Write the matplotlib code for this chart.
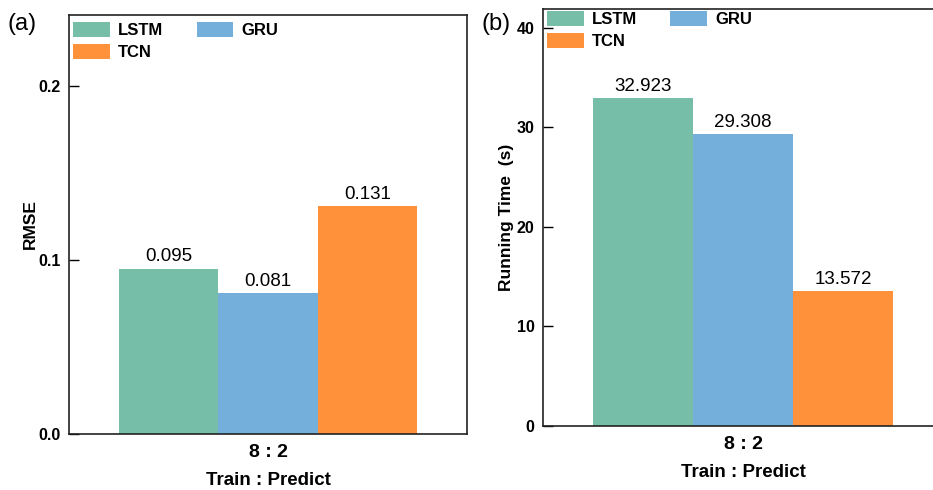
import matplotlib
matplotlib.use("Agg")
import matplotlib.pyplot as plt
import numpy as np

models = ["LSTM", "GRU", "TCN"]
colors = ["#76BEA7", "#74AEDB", "#FE9139"]
split_label = "8 : 2"
rmse = [0.095, 0.081, 0.131]
run_time = [32.923, 29.308, 13.572]

plt.rcParams["font.family"] = ["Liberation Sans", "DejaVu Sans"]

fig = plt.figure(figsize=(9.33, 4.9), dpi=100)
ax1 = fig.add_axes([0.074, 0.1143, 0.4266, 0.855])
ax2 = fig.add_axes([0.582, 0.1306, 0.4287, 0.8516])

width = 0.25
offsets = (np.arange(len(models)) - 1) * width


def draw(ax, values, ylim, yticks, ylabel, ypad):
    handles = []
    for off, v, c, m in zip(offsets, values, colors, models):
        b = ax.bar(off, v, width, color=c, label=m)
        handles.append(b)
        ax.text(off, v + ylim[1] * 0.008, f"{v:.3f}", ha="center", va="bottom", fontsize=13.5)
    ax.set_xlim(-0.5, 0.5)
    ax.set_ylim(*ylim)
    ax.set_yticks(yticks)
    ax.set_xticks([0])
    ax.set_xticklabels([split_label], fontsize=14, fontweight="bold")
    ax.tick_params(axis="y", direction="in", length=7, width=1.0, labelsize=11.5, pad=6)
    ax.tick_params(axis="x", length=0, pad=7)
    for lbl in ax.get_yticklabels():
        lbl.set_fontweight("bold")
    ax.set_xlabel("Train : Predict", fontsize=13.5, fontweight="bold", labelpad=8)
    ax.set_ylabel(ylabel, fontsize=12.5, fontweight="bold", labelpad=ypad)
    for s in ax.spines.values():
        s.set_linewidth(1.2)
        s.set_color("#222222")
    # row-wise legend order: LSTM GRU / TCN
    order = [0, 2, 1]
    ax.legend([handles[i] for i in order], [models[i] for i in order],
              loc="upper left", ncol=2, frameon=False,
              prop={"weight": "bold", "size": 12},
              handlelength=2.2, handleheight=1.0, columnspacing=2.0,
              handletextpad=0.5, labelspacing=0.35, borderaxespad=0.35,
              borderpad=0.05)


draw(ax1, rmse, (0, 0.241), [0.0, 0.1, 0.2], "RMSE", 0)
draw(ax2, run_time, (0, 41.9), [0, 10, 20, 30, 40], "Running Time  (s)", 2)
ax1.set_yticklabels(["0.0", "0.1", "0.2"])
ax1.get_legend().set_bbox_to_anchor((-0.007, 1.0), transform=ax1.transAxes)
ax2.get_legend().set_bbox_to_anchor((-0.007, 1.01), transform=ax2.transAxes)

fig.text(0.008, 0.952, "(a)", fontsize=17, ha="left", va="center")
fig.text(0.516, 0.952, "(b)", fontsize=17, ha="left", va="center")

fig.savefig("out.png", dpi=100)
